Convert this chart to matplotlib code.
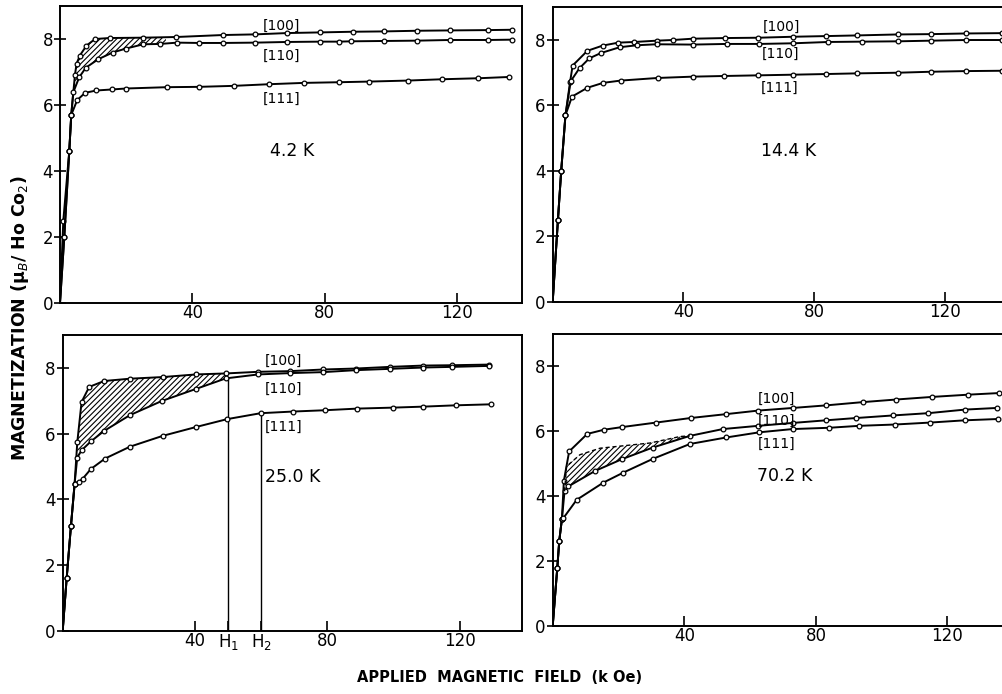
import numpy as np
import matplotlib
matplotlib.use("Agg")
import matplotlib.pyplot as plt

plt.rcParams['font.family'] = ['DejaVu Sans']
plt.rcParams['hatch.linewidth'] = 0.8

# ---------------- data (field in kOe, magnetization in muB / HoCo2) ----------------
# 4.2 K
h42_100 = [0, 1.0, 2.8, 3.4, 4.5, 5.0, 6.0, 8.0, 10.6, 15, 25, 35, 49.1, 59, 68.6, 78.7, 88.5, 97.9, 107.9, 117.7, 129.4, 136.5]
m42_100 = [0, 2.5, 4.6, 5.7, 6.9, 7.25, 7.5, 7.8, 8.0, 8.03, 8.04, 8.06, 8.12, 8.14, 8.18, 8.2, 8.22, 8.23, 8.25, 8.26, 8.27, 8.28]
h42_110 = [0, 1.3, 2.8, 3.4, 4.0, 5.8, 7.8, 11.6, 15.9, 19.9, 25.2, 30.2, 35.4, 42, 49.1, 59, 68.6, 78.7, 84.3, 88, 97.9, 107.9, 117.7, 129.3, 136.5]
m42_110 = [0, 2.0, 4.6, 5.7, 6.38, 6.84, 7.13, 7.39, 7.59, 7.71, 7.84, 7.85, 7.89, 7.88, 7.88, 7.89, 7.91, 7.92, 7.92, 7.93, 7.94, 7.95, 7.97, 7.97, 7.98]
h42_111 = [0, 1.3, 2.8, 3.4, 5.2, 7.6, 11, 15.6, 19.9, 32.4, 41.9, 52.5, 63.2, 73.7, 84.2, 93.4, 105, 115.4, 126.3, 135.8]
m42_111 = [0, 2.0, 4.6, 5.7, 6.15, 6.37, 6.44, 6.47, 6.5, 6.54, 6.55, 6.58, 6.63, 6.67, 6.69, 6.71, 6.74, 6.78, 6.81, 6.85]

# 14.4 K
h144_100 = [0, 1.6, 2.6, 3.9, 5.3, 6.1, 10.6, 15.3, 20.1, 25, 31.8, 36.7, 42.8, 52.7, 62.9, 73.6, 83.6, 93, 105.5, 115.7, 126.4, 137.3]
m144_100 = [0, 2.5, 4.0, 5.7, 6.71, 7.22, 7.67, 7.83, 7.92, 7.94, 7.98, 8.0, 8.04, 8.06, 8.07, 8.1, 8.12, 8.14, 8.17, 8.18, 8.2, 8.21]
h144_110 = [0, 1.6, 2.6, 3.9, 5.5, 8.2, 11.2, 14.7, 20.5, 25.8, 31.8, 42.8, 53.2, 63.2, 73.6, 84.3, 94.5, 105.5, 115.7, 126.4, 137.3]
m144_110 = [0, 2.5, 4.0, 5.7, 6.74, 7.14, 7.44, 7.6, 7.78, 7.84, 7.87, 7.86, 7.88, 7.88, 7.9, 7.94, 7.95, 7.96, 7.98, 8.0, 8.0]
h144_111 = [0, 1.6, 2.6, 3.9, 5.9, 10.6, 15.4, 20.8, 32.2, 42.8, 52.4, 62.9, 73.6, 83.6, 93, 105.5, 115.7, 126.4, 137.3]
m144_111 = [0, 2.5, 4.0, 5.7, 6.27, 6.54, 6.69, 6.76, 6.84, 6.88, 6.9, 6.92, 6.94, 6.96, 6.98, 7.0, 7.03, 7.05, 7.06]

# 25.0 K
h25_100 = [0, 1.2, 2.5, 3.6, 4.4, 5.7, 8.0, 12.5, 20.3, 30.2, 40.3, 49.3, 59.1, 68.7, 78.7, 88.6, 98.9, 109, 117.7, 128.9]
m25_100 = [0, 1.6, 3.2, 4.48, 5.73, 6.96, 7.42, 7.6, 7.67, 7.72, 7.8, 7.83, 7.88, 7.9, 7.95, 7.98, 8.03, 8.07, 8.08, 8.1]
h25_110 = [0, 1.2, 2.5, 3.6, 4.4, 5.7, 8.5, 12.5, 20.3, 29.9, 40.3, 49.3, 59.1, 68.7, 78.7, 88.6, 98.9, 109, 117.7, 128.9]
m25_110 = [0, 1.6, 3.2, 4.48, 5.27, 5.49, 5.76, 6.08, 6.56, 6.99, 7.36, 7.68, 7.8, 7.84, 7.87, 7.93, 7.97, 8.01, 8.03, 8.06]
h25_111 = [0, 1.2, 2.5, 3.6, 4.8, 6.0, 8.5, 12.8, 20.3, 30.2, 40.3, 49.7, 59.8, 69.5, 79.2, 89, 99.9, 109, 118.8, 129.3]
m25_111 = [0, 1.6, 3.2, 4.45, 4.52, 4.62, 4.92, 5.24, 5.6, 5.93, 6.2, 6.44, 6.62, 6.67, 6.71, 6.76, 6.79, 6.82, 6.86, 6.89]
H1, H2 = 50, 60

# 70.2 K
h70_100 = [0, 1.4, 2.0, 2.8, 3.4, 5.0, 10.5, 15.6, 21, 31.4, 41.9, 52.7, 62.5, 72.9, 83.1, 94.2, 104.3, 115.2, 126.3, 135.7]
m70_100 = [0, 1.8, 2.63, 3.3, 4.48, 5.38, 5.92, 6.05, 6.13, 6.27, 6.41, 6.53, 6.64, 6.72, 6.8, 6.9, 6.98, 7.06, 7.13, 7.18]
h70_110 = [0, 1.4, 2.0, 2.8, 3.6, 4.7, 12.9, 21, 30.4, 41.7, 51.7, 62.5, 73.1, 83.1, 92.2, 103.5, 114.2, 125.3, 134.9]
m70_110 = [0, 1.8, 2.63, 3.3, 4.15, 4.3, 4.78, 5.14, 5.5, 5.86, 6.07, 6.17, 6.26, 6.34, 6.41, 6.49, 6.56, 6.67, 6.72]
h70_111 = [0, 1.4, 2.0, 2.8, 3.2, 7.3, 15.4, 21.5, 30.4, 41.7, 52.7, 62.8, 72.9, 84.1, 93.2, 104, 114.7, 125.3, 135.3]
m70_111 = [0, 1.8, 2.63, 3.3, 3.32, 3.89, 4.42, 4.73, 5.15, 5.61, 5.81, 5.97, 6.07, 6.11, 6.17, 6.21, 6.27, 6.34, 6.38]
h70_dash = [3.6, 4.2, 8.3, 14.4, 29.6, 38.7, 41.7]
m70_dash = [4.15, 4.92, 5.28, 5.48, 5.64, 5.84, 5.86]

yticks = [0, 2, 4, 6, 8]
xticks = [40, 80, 120]
temps = ["4.2 K", "14.4 K", "25.0 K", "70.2 K"]
dirs = ["[100]", "[110]", "[111]"]

# ---------------- figure ----------------
W, Hh = 1003, 694
fig = plt.figure(figsize=(W / 100, Hh / 100), dpi=100)

def px_axes(x0, ytop, ybot, ppu, xmax=139.5):
    return fig.add_axes([x0 / W, (Hh - ybot) / Hh, ppu * xmax / W, (ybot - ytop) / Hh])

axes = [
    px_axes(60, 6, 303, 3.31),
    px_axes(552.7, 7.3, 301.7, 3.27),
    px_axes(62.7, 335, 630.7, 3.31, 138.8),
    px_axes(552.7, 334, 626, 3.29),
]

lkw = dict(color='black', lw=1.4, marker='o', ms=3.4, mfc='white', mec='black', mew=0.9,
           markevery=slice(1, None), zorder=3)

def setup(ax, xmax=139.5):
    ax.set_xlim(0, xmax)
    ax.set_ylim(0, 9)
    ax.set_yticks(yticks)
    ax.set_yticklabels([str(v) for v in yticks])
    ax.set_xticks(xticks)
    ax.set_xticklabels([str(v) for v in xticks])
    ax.tick_params(axis='y', direction='inout', length=8, width=1.2, pad=1, labelsize=12)
    ax.tick_params(axis='x', direction='in', length=7, width=1.2, pad=1, labelsize=12)
    for s in ax.spines.values():
        s.set_linewidth(1.4)

def hatch_between(ax, hA, mA, hB, mB, x0, x1):
    xs = np.linspace(x0, x1, 200)
    ax.fill_between(xs, np.interp(xs, hA, mA), np.interp(xs, hB, mB),
                    facecolor='none', edgecolor='black', hatch='//////', linewidth=0, zorder=2)

# 4.2 K
ax = axes[0]
setup(ax)
ax.plot(h42_100, m42_100, **lkw)
ax.plot(h42_110, m42_110, **lkw)
ax.plot(h42_111, m42_111, **lkw)
hatch_between(ax, h42_100, m42_100, h42_110, m42_110, 3.4, 32)
ax.text(66.9, 8.4, dirs[0], fontsize=10, ha='center', va='center')
ax.text(66.9, 7.49, dirs[1], fontsize=10, ha='center', va='center')
ax.text(66.9, 6.18, dirs[2], fontsize=10, ha='center', va='center')
ax.text(70, 4.6, temps[0], fontsize=12.5, ha='center', va='center')

# 14.4 K
ax = axes[1]
setup(ax)
ax.plot(h144_100, m144_100, **lkw)
ax.plot(h144_110, m144_110, **lkw)
ax.plot(h144_111, m144_111, **lkw)
ax.text(69.8, 8.4, dirs[0], fontsize=10, ha='center', va='center')
ax.text(69.8, 7.57, dirs[1], fontsize=10, ha='center', va='center')
ax.text(69.3, 6.54, dirs[2], fontsize=10, ha='center', va='center')
ax.text(72, 4.6, temps[1], fontsize=12.5, ha='center', va='center')

# 25.0 K
ax = axes[2]
setup(ax, 138.8)
ax.set_xticks([40, H1, H2, 80, 120])
ax.set_xticklabels(['40', 'H$_1$', 'H$_2$', '80', '120'])
ax.plot(h25_100, m25_100, **lkw)
ax.plot(h25_110, m25_110, **lkw)
ax.plot(h25_111, m25_111, **lkw)
hatch_between(ax, h25_100, m25_100, h25_110, m25_110, 4.4, 49.3)
ax.plot([H1, H1], [0, np.interp(H1, h25_110, m25_110)], color='black', lw=1.0, zorder=2)
ax.plot([H2, H2], [0, np.interp(H2, h25_111, m25_111)], color='black', lw=1.0, zorder=2)
ax.text(66.6, 8.2, dirs[0], fontsize=10, ha='center', va='center')
ax.text(66.6, 7.36, dirs[1], fontsize=10, ha='center', va='center')
ax.text(66.6, 6.2, dirs[2], fontsize=10, ha='center', va='center')
ax.text(61, 4.69, temps[2], fontsize=12.5, ha='left', va='center')

# 70.2 K
ax = axes[3]
setup(ax)
ax.plot(h70_100, m70_100, **lkw)
ax.plot(h70_110, m70_110, **lkw)
ax.plot(h70_111, m70_111, **lkw)
ax.plot(h70_dash, m70_dash, color='black', lw=1.0, ls=(0, (3, 2)), zorder=3)
hatch_between(ax, h70_dash, m70_dash, h70_110, m70_110, 3.6, 41.7)
ax.text(68.1, 7.0, dirs[0], fontsize=10, ha='center', va='center')
ax.text(68.1, 6.31, dirs[1], fontsize=10, ha='center', va='center')
ax.text(68.1, 5.62, dirs[2], fontsize=10, ha='center', va='center')
ax.text(70.6, 4.63, temps[3], fontsize=12.5, ha='center', va='center')

fig.text(20 / W, 1 - 318 / Hh, "MAGNETIZATION (\u03bc$_B$/ Ho Co$_2$)", rotation=90,
         fontsize=12.5, fontweight='bold', ha='center', va='center')
fig.text(500 / W, 1 - 677 / Hh, "APPLIED  MAGNETIC  FIELD  (k Oe)", fontsize=10.5,
         fontweight='bold', ha='center', va='center')

fig.savefig("out.png", dpi=100)
